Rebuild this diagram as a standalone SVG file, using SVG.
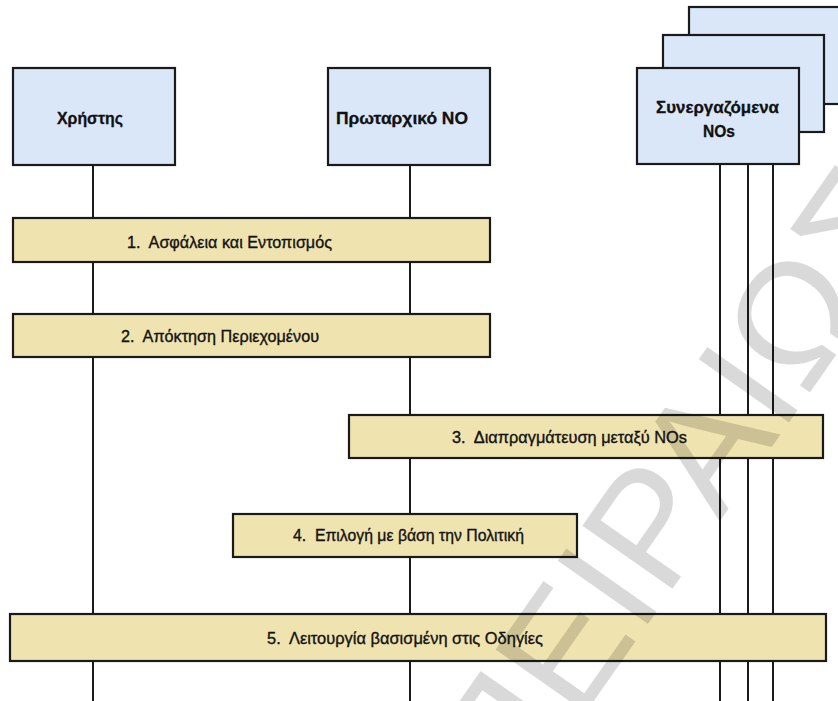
<svg xmlns="http://www.w3.org/2000/svg" width="838" height="701" viewBox="0 0 838 701">
  <style>
    .actor { fill: #dae7f8; stroke: #1a1a1a; stroke-width: 2.2; }
    .step { fill: #efe3af; stroke: #1a1a1a; stroke-width: 2.2; }
    .life { stroke: #1a1a1a; stroke-width: 2; fill: none; }
    .name { font-family: "Liberation Sans", Arial, sans-serif; font-weight: bold; font-size: 17px; fill: #111; stroke: #111; stroke-width: 0.3; text-anchor: middle; }
    .lbl { font-family: "Liberation Sans", Arial, sans-serif; font-size: 17px; fill: #111; stroke: #111; stroke-width: 0.35; white-space: pre; }
    .mark { font-family: "Liberation Sans", "DejaVu Sans", sans-serif; font-size: 160px; fill: #000; fill-opacity: 0.15; }
  </style>
  <rect width="838" height="701" fill="#ffffff"/>

  <!-- lifelines -->
  <g id="connectors">
    <line class="life" x1="93" y1="165" x2="93" y2="701"/>
    <line class="life" x1="410" y1="165" x2="410" y2="701"/>
    <line class="life" x1="720" y1="164" x2="720" y2="701"/>
    <line class="life" x1="748" y1="164" x2="748" y2="701"/>
    <line class="life" x1="773" y1="164" x2="773" y2="701"/>
  </g>

  <!-- participants -->
  <g id="user">
    <rect class="actor" x="13" y="68" width="162" height="97"/>
    <text class="name" x="90" y="124" textLength="66" lengthAdjust="spacingAndGlyphs">Χρήστης</text>
  </g>
  <g id="primary-no">
    <rect class="actor" x="328" y="68" width="162" height="97"/>
    <text class="name" x="402" y="124" textLength="132" lengthAdjust="spacingAndGlyphs">Πρωταρχικό NO</text>
  </g>
  <g id="cooperating-nos">
    <rect class="actor" x="689" y="7" width="162" height="97"/>
    <rect class="actor" x="663" y="35" width="161" height="97"/>
    <rect class="actor" x="637" y="68" width="162" height="96"/>
    <text class="name" x="717.5" y="113" textLength="123" lengthAdjust="spacingAndGlyphs">Συνεργαζόμενα</text>
    <text class="name" x="719" y="137" textLength="32" lengthAdjust="spacingAndGlyphs">NOs</text>
  </g>

  <!-- phases -->
  <g id="step1">
    <rect class="step" x="13" y="218" width="477" height="44"/>
    <text class="lbl" x="127" y="247.5" textLength="205" lengthAdjust="spacingAndGlyphs">1.  Ασφάλεια και Εντοπισμός</text>
  </g>
  <g id="step2">
    <rect class="step" x="13" y="314" width="477" height="43"/>
    <text class="lbl" x="121" y="341.5" textLength="198" lengthAdjust="spacingAndGlyphs">2.  Απόκτηση Περιεχομένου</text>
  </g>
  <g id="step3">
    <rect class="step" x="349" y="415" width="474" height="43"/>
    <text class="lbl" x="452" y="443" textLength="235" lengthAdjust="spacingAndGlyphs">3.  Διαπραγμάτευση μεταξύ NOs</text>
  </g>
  <g id="step4">
    <rect class="step" x="233" y="514" width="344" height="43"/>
    <text class="lbl" x="293" y="541" textLength="231" lengthAdjust="spacingAndGlyphs">4.  Επιλογή με βάση την Πολιτική</text>
  </g>
  <g id="step5">
    <rect class="step" x="10" y="614" width="816" height="47"/>
    <text class="lbl" x="267" y="644" textLength="276" lengthAdjust="spacingAndGlyphs">5.  Λειτουργία βασισμένη στις Οδηγίες</text>
  </g>

  <!-- watermark -->
  <text class="mark" transform="translate(512 818) rotate(-55)">ΠΕΙΡΑΙΩΣ</text>
</svg>
